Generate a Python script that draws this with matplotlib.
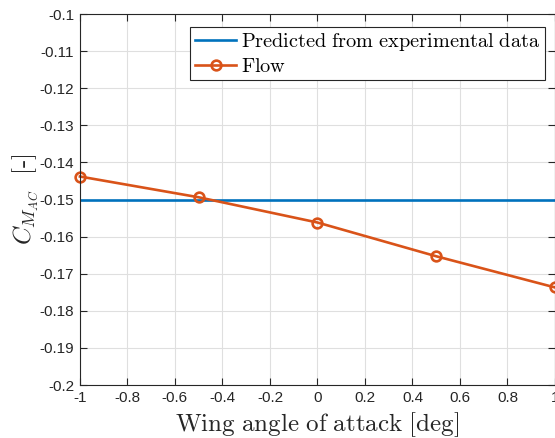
import matplotlib
matplotlib.use('Agg')
import matplotlib.pyplot as plt

# wing angle of attack [deg] and moment coefficient about AC
alpha = [-1.0, -0.5, 0.0, 0.5, 1.0]
cmac_flow = [-0.1438, -0.1494, -0.1562, -0.1653, -0.1737]
cmac_exp = -0.150

plt.rcParams['mathtext.fontset'] = 'cm'
plt.rcParams['font.family'] = ['Liberation Sans', 'DejaVu Sans']

fig = plt.figure(figsize=(5.55, 4.38), dpi=100)
ax = fig.add_axes([0.144, 0.121, 0.856, 0.847])

ax.plot([-1, 1], [cmac_exp, cmac_exp], color='#0072BD', lw=1.9,
        label=r'$\mathrm{Predicted\ from\ experimental\ data}$')
ax.plot(alpha, cmac_flow, color='#D95319', lw=1.9, marker='o', ms=7,
        mfc='none', mew=1.9, label=r'$\mathrm{Flow}$', clip_on=False)

ax.set_xlim(-1, 1)
ax.set_ylim(-0.2, -0.1)
ax.set_xticks([-1, -0.8, -0.6, -0.4, -0.2, 0, 0.2, 0.4, 0.6, 0.8, 1])
ax.set_xticklabels(['-1', '-0.8', '-0.6', '-0.4', '-0.2', '0', '0.2', '0.4', '0.6', '0.8', '1'])
yt = [-0.2, -0.19, -0.18, -0.17, -0.16, -0.15, -0.14, -0.13, -0.12, -0.11, -0.1]
ax.set_yticks(yt)
ax.set_yticklabels(['-0.2', '-0.19', '-0.18', '-0.17', '-0.16', '-0.15', '-0.14',
                    '-0.13', '-0.12', '-0.11', '-0.1'])

ax.grid(True, color='#dfdfdf', lw=0.8)
ax.set_axisbelow(True)
ax.tick_params(direction='in', top=True, right=True, length=5, width=0.8,
               labelsize=11, colors='#262626', pad=4)
for s in ax.spines.values():
    s.set_color('#262626')
    s.set_linewidth(0.8)

ax.set_xlabel(r'$\mathrm{Wing\ angle\ of\ attack\ [deg]}$', fontsize=18, color='#262626', labelpad=4)
ax.set_ylabel(r'$C_{M_{AC}}\ \ \mathrm{[\text{-}]}$', fontsize=18, color='#262626', labelpad=0)

leg = ax.legend(loc='upper right', bbox_to_anchor=(0.979, 0.966), fontsize=14.6,
                fancybox=False, framealpha=1, edgecolor='#262626',
                handlelength=2.05, handletextpad=0.25, borderpad=0.22,
                labelspacing=0.18, borderaxespad=0)
leg.get_frame().set_linewidth(0.8)

fig.savefig('out.png', dpi=100)
